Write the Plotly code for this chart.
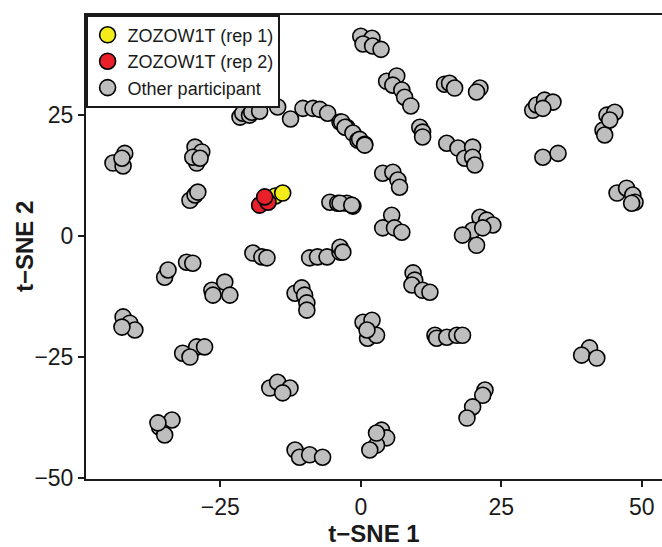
import plotly.graph_objects as go

# Other participants (t-SNE 1, t-SNE 2)
other_x = [
    0.0, 2.0, 0.4, 2.1, 3.6,
    4.6, 6.4, 5.7, 7.3, 7.8, 8.9,
    14.9, 15.8, 16.7, 21.2, 20.6,
    30.6, 31.3, 32.7, 34.2, 32.4,
    43.8, 45.2, 43.1, 43.4, 44.3,
    -21.5, -21.0, -19.8, -19.4, -18.0, -14.8, -12.5, -10.3, -8.5, -7.3, -5.9,
    -3.7, -3.4, -2.5, -2.8, -1.4, -0.5, -0.2, 0.7, 0.7,
    -42.0, -44.1, -42.3, -42.5,
    -29.5, -28.3, -29.2, -29.9, -28.6,
    -30.4, -29.5, -29.0,
    -5.5, -4.1, -2.5, -1.4, -3.7, -1.6,
    15.3, 17.3, 18.5, 19.9, 19.9, 20.3,
    10.5, 11.0, 11.0,
    32.4, 35.1,
    45.6, 47.3, 48.4, 48.8, 48.2,
    3.9, 5.7, 6.6, 6.9,
    5.5, 3.9, 6.0, 7.3,
    21.2, 22.4, 23.5, 19.9, 18.1, 21.7, 20.6,
    -34.9, -34.3, -31.0, -29.9,
    -26.5, -24.2, -23.3, -26.3,
    -19.2, -17.6, -16.7,
    -9.1, -7.7, -6.0, -3.7, -3.7, -3.2,
    -11.7, -10.5, -10.0, -9.6, -9.6,
    -42.3, -41.1, -40.2, -42.5,
    -31.7, -29.2, -27.8, -30.4,
    -16.2, -14.8, -12.6, -13.9,
    -35.8, -33.6, -34.9, -36.1,
    -11.7, -10.9, -9.1, -6.8,
    0.4, 2.0, 1.2, 2.8, 1.1,
    9.3, 9.6, 9.1, 11.0, 12.3,
    13.2, 13.5, 15.3, 17.1, 18.1,
    40.7, 39.3, 42.0,
    22.1, 21.7, 19.9, 18.9,
    3.7, 4.6, 2.8, 1.6, 2.8,
]
other_y = [
    41.3, 40.9, 39.7, 39.3, 38.6,
    32.0, 33.1, 31.2, 30.2, 28.7, 26.9,
    31.4, 31.6, 30.6, 30.6, 29.8,
    26.0, 27.1, 28.1, 27.7, 26.4,
    25.0, 25.6, 21.9, 20.9, 24.0,
    24.6, 25.4, 25.0, 25.6, 25.8, 26.7, 24.2, 26.4, 26.4, 26.2, 25.4,
    23.6, 23.6, 22.5, 22.5, 21.3, 19.8, 20.0, 19.0, 18.8,
    17.1, 15.1, 14.5, 16.1,
    18.4, 17.4, 15.1, 16.3, 16.1,
    7.4, 8.5, 9.1,
    7.0, 6.8, 6.8, 6.2, 6.8, 6.4,
    19.2, 18.2, 16.1, 18.4, 16.3, 14.7,
    22.5, 21.5, 20.5,
    16.3, 17.1,
    8.9, 9.9, 8.5, 7.0, 6.8,
    13.0, 13.2, 11.6, 10.1,
    4.3, 1.7, 1.7, 0.8,
    3.9, 3.3, 2.3, 1.2, 0.2, 1.7, -1.9,
    -8.5, -7.0, -5.4, -5.6,
    -11.2, -9.5, -12.2, -12.2,
    -3.5, -4.3, -4.5,
    -4.5, -4.3, -4.3, -3.3, -2.3, -3.3,
    -11.8, -10.7, -12.2, -13.8, -15.3,
    -16.7, -18.0, -19.4, -18.8,
    -24.2, -22.9, -22.9, -25.0,
    -31.4, -30.2, -31.4, -32.4,
    -39.5, -38.0, -41.1, -38.6,
    -44.2, -45.7, -45.2, -45.7,
    -17.8, -17.4, -21.1, -20.5, -19.4,
    -7.6, -9.1, -10.1, -11.2, -11.6,
    -20.5, -21.1, -20.9, -20.5, -20.5,
    -23.1, -24.6, -25.2,
    -31.8, -32.9, -35.3, -37.6,
    -40.1, -41.7, -43.2, -44.2, -40.7,
]

rep1_x = [-15.2, -13.9]
rep1_y = [8.3, 8.9]
rep2_x = [-18.0, -16.5, -17.1]
rep2_y = [6.4, 7.0, 8.1]

labels = ["ZOZOW1T (rep 1)", "ZOZOW1T (rep 2)", "Other participant"]
colors = ["#F4EB1B", "#E8202A", "#BEBEBE"]

x_ticks = [-25, 0, 25, 50]
y_ticks = [-50, -25, 0, 25]

FONT = "Arial, 'Liberation Sans', Helvetica, sans-serif"
DARK = "#1a1a1a"

def mk(color):
    return dict(size=16, color=color, line=dict(color="black", width=1.6))

fig = go.Figure()
fig.add_trace(go.Scatter(x=other_x, y=other_y, mode="markers", name=labels[2],
                         marker=mk(colors[2]), legendrank=3))
fig.add_trace(go.Scatter(x=rep1_x, y=rep1_y, mode="markers", name=labels[0],
                         marker=mk(colors[0]), legendrank=1))
fig.add_trace(go.Scatter(x=rep2_x, y=rep2_y, mode="markers", name=labels[1],
                         marker=mk(colors[1]), legendrank=2))

fig.update_layout(
    width=662, height=547,
    margin=dict(l=86, r=0, t=15, b=68),
    paper_bgcolor="white", plot_bgcolor="white",
    font=dict(family=FONT, color=DARK),
    showlegend=True,
    legend=dict(x=0, y=1, xanchor="left", yanchor="top",
                bgcolor="white", bordercolor=DARK, borderwidth=1.6,
                font=dict(size=18, color=DARK), tracegroupgap=0,
                itemwidth=30),
    xaxis=dict(range=[-48.9, 53.6], tickvals=x_ticks,
               ticktext=[str(v).replace("-", "\u2212") for v in x_ticks],
               showgrid=False, zeroline=False,
               showline=True, linecolor=DARK, linewidth=2, mirror=True,
               ticks="outside", ticklen=6, tickwidth=1.5, tickcolor=DARK,
               tickfont=dict(size=23, color=DARK),
               title=dict(text="<b>t\u2212SNE 1</b>", font=dict(size=24, color=DARK), standoff=6)),
    yaxis=dict(range=[-50.2, 45.7], tickvals=y_ticks,
               ticktext=[str(v).replace("-", "\u2212") for v in y_ticks],
               showgrid=False, zeroline=False,
               showline=True, linecolor=DARK, linewidth=2,
               ticks="outside", ticklen=6, tickwidth=1.5, tickcolor=DARK,
               tickfont=dict(size=23, color=DARK)),
    annotations=[dict(text="<b>t\u2212SNE 2</b>", xref="paper", yref="paper",
                      x=-0.1076, y=0.5, xanchor="center", yanchor="middle",
                      textangle=-90, showarrow=False,
                      font=dict(size=24, color=DARK))],
)

fig.write_html("out.html")
